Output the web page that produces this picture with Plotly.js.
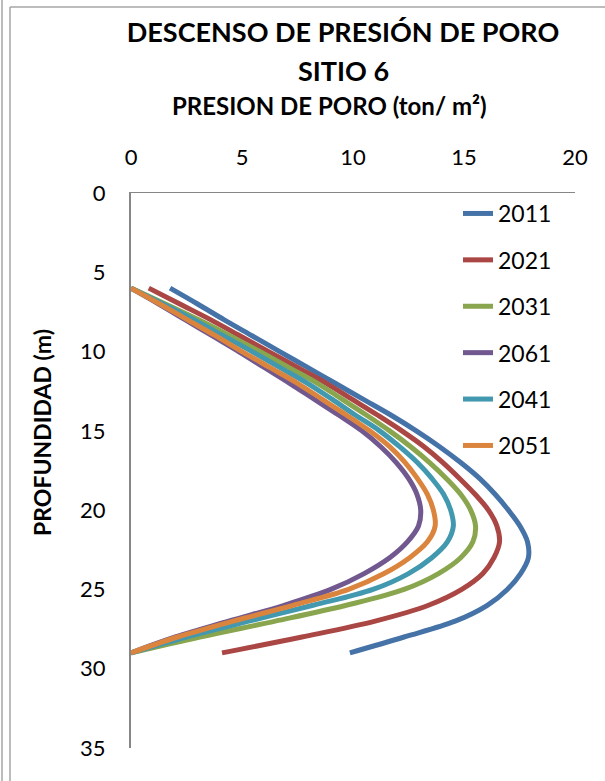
<!DOCTYPE html>
<html>
<head>
<meta charset="utf-8">
<script src="https://cdn.plot.ly/plotly-3.0.1.min.js"></script>
<style>html,body{margin:0;padding:0;background:#fff;}#chart{width:605px;height:781px;}</style>
</head>
<body>
<div id="chart"></div>
<script>
// Depths (m) at which each curve was read
const depth = [6, 7, 8, 9, 10, 11, 12, 13, 14, 15, 16, 17, 18, 19, 20, 21, 22, 23, 24, 25, 26, 27, 28, 29];

// Pore pressure (ton/m2) per year, read at the depths above
const p2011 = [1.76, 3.0, 4.2, 5.45, 6.7, 7.95, 9.2, 10.45, 11.7, 12.85, 13.9, 14.85, 15.7, 16.4, 17.0, 17.52, 17.86, 17.9, 17.55, 16.95, 16.05, 14.6, 12.3, 9.86];
const p2021 = [0.8, 2.2, 3.6, 4.9, 6.2, 7.5, 8.8, 9.95, 11.1, 12.2, 13.2, 14.05, 14.8, 15.5, 16.1, 16.48, 16.6, 16.35, 15.85, 14.9, 13.4, 11.0, 7.7, 4.1];
const p2031 = [0, 1.55, 3.05, 4.45, 5.8, 7.1, 8.4, 9.5, 10.6, 11.65, 12.6, 13.45, 14.2, 14.85, 15.3, 15.52, 15.4, 14.85, 13.85, 12.3, 9.7, 6.5, 3.1, 0];
const p2061 = [0, 1.25, 2.45, 3.65, 4.85, 6.0, 7.15, 8.25, 9.35, 10.4, 11.25, 11.95, 12.5, 12.88, 13.05, 12.95, 12.45, 11.65, 10.5, 9.0, 6.9, 4.4, 2.0, 0];
const p2041 = [0, 1.45, 2.85, 4.15, 5.45, 6.7, 7.95, 9.05, 10.1, 11.2, 12.1, 12.9, 13.55, 14.08, 14.4, 14.52, 14.25, 13.55, 12.5, 10.9, 8.2, 5.3, 2.5, 0];
const p2051 = [0, 1.3, 2.55, 3.8, 5.0, 6.25, 7.5, 8.6, 9.7, 10.75, 11.65, 12.35, 12.9, 13.35, 13.62, 13.7, 13.35, 12.55, 11.4, 9.8, 7.3, 4.6, 2.1, 0];

const years = ['2011', '2021', '2031', '2061', '2041', '2051'];
const series = [p2011, p2021, p2031, p2061, p2041, p2051];
const colors = ['#4572A7', '#AA4643', '#89A54E', '#71588F', '#4198AF', '#DB843D'];

const xTicks = [0, 5, 10, 15, 20];
const yTicks = [0, 5, 10, 15, 20, 25, 30, 35];

const FONT = 'Lato, "Open Sans", sans-serif';

const traces = series.map((s, i) => ({
  type: 'scatter',
  mode: 'lines',
  name: years[i],
  legendgroup: 'g' + i,
  x: s,
  y: depth,
  line: {color: colors[i], width: 5, shape: 'spline', smoothing: 1},
  hoverinfo: 'x+y+name'
}));

const gray = '#A6A6A6';

const layout = {
  width: 605,
  height: 781,
  margin: {l: 131, r: 30, t: 193, b: 33},
  paper_bgcolor: '#fff',
  plot_bgcolor: '#fff',
  font: {family: FONT, color: '#000'},
  title: {
    text: '<b>DESCENSO DE PRESIÓN DE PORO</b>',
    font: {family: FONT, size: 27, color: '#000'},
    xref: 'container', x: 0.567, xanchor: 'center',
    yref: 'container', y: 1 - 33/781, yanchor: 'middle'
  },
  xaxis: {
    side: 'top',
    range: [0, 20],
    tickvals: xTicks,
    ticktext: xTicks.map(String),
    showgrid: false,
    zeroline: false,
    showline: true,
    linecolor: '#868686',
    linewidth: 1.5,
    ticks: '',
    tickfont: {family: FONT, size: 22, color: '#000'},
    ticklabelstandoff: 18,
    fixedrange: true
  },
  yaxis: {
    range: [35, 0],
    tickvals: yTicks,
    ticktext: yTicks.map(String),
    showgrid: false,
    zeroline: false,
    showline: true,
    linecolor: '#868686',
    linewidth: 2,
    ticks: '',
    tickfont: {family: FONT, size: 22, color: '#000'},
    ticklabelstandoff: 19,
    fixedrange: true
  },
  legend: {
    x: (458 - 131) / 444, xanchor: 'left',
    y: (748 - 192) / 555, yanchor: 'top',
    font: {family: FONT, size: 23, color: '#000'},
    bgcolor: 'rgba(0,0,0,0)',
    tracegroupgap: 13.5,
    itemwidth: 30
  },
  annotations: [
    {
      text: '<b>SITIO 6</b>',
      xref: 'paper', yref: 'paper',
      x: (343 - 131) / 444, y: (748 - 70) / 555,
      xanchor: 'center', yanchor: 'middle', showarrow: false,
      font: {family: FONT, size: 27, color: '#000'}
    },
    {
      text: '<b>PRESION DE PORO (ton/ m²)</b>',
      xref: 'paper', yref: 'paper',
      x: (329 - 131) / 444, y: (748 - 105) / 555,
      xanchor: 'center', yanchor: 'middle', showarrow: false,
      font: {family: FONT, size: 24, color: '#000'}
    },
    {
      text: '<b>PROFUNDIDAD (m)</b>',
      xref: 'paper', yref: 'paper',
      x: (42 - 131) / 444, y: (748 - 433) / 555,
      xanchor: 'center', yanchor: 'middle', showarrow: false,
      textangle: -90,
      font: {family: FONT, size: 23, color: '#000'}
    }
  ],
  shapes: [
    {type: 'line', xref: 'paper', yref: 'paper', x0: (2 - 131) / 444, x1: (2 - 131) / 444, y0: (748 - 0) / 555, y1: (748 - 781) / 555, line: {color: gray, width: 1.5}},
    {type: 'line', xref: 'paper', yref: 'paper', x0: (10 - 131) / 444, x1: (10 - 131) / 444, y0: (748 - 7) / 555, y1: (748 - 781) / 555, line: {color: gray, width: 1.5}},
    {type: 'line', xref: 'paper', yref: 'paper', x0: (10 - 131) / 444, x1: (605 - 131) / 444, y0: (748 - 7) / 555, y1: (748 - 7) / 555, line: {color: gray, width: 1.5}}
  ],
  showlegend: true
};

Plotly.newPlot('chart', traces, layout, {displayModeBar: false, staticPlot: true});
</script>
</body>
</html>
